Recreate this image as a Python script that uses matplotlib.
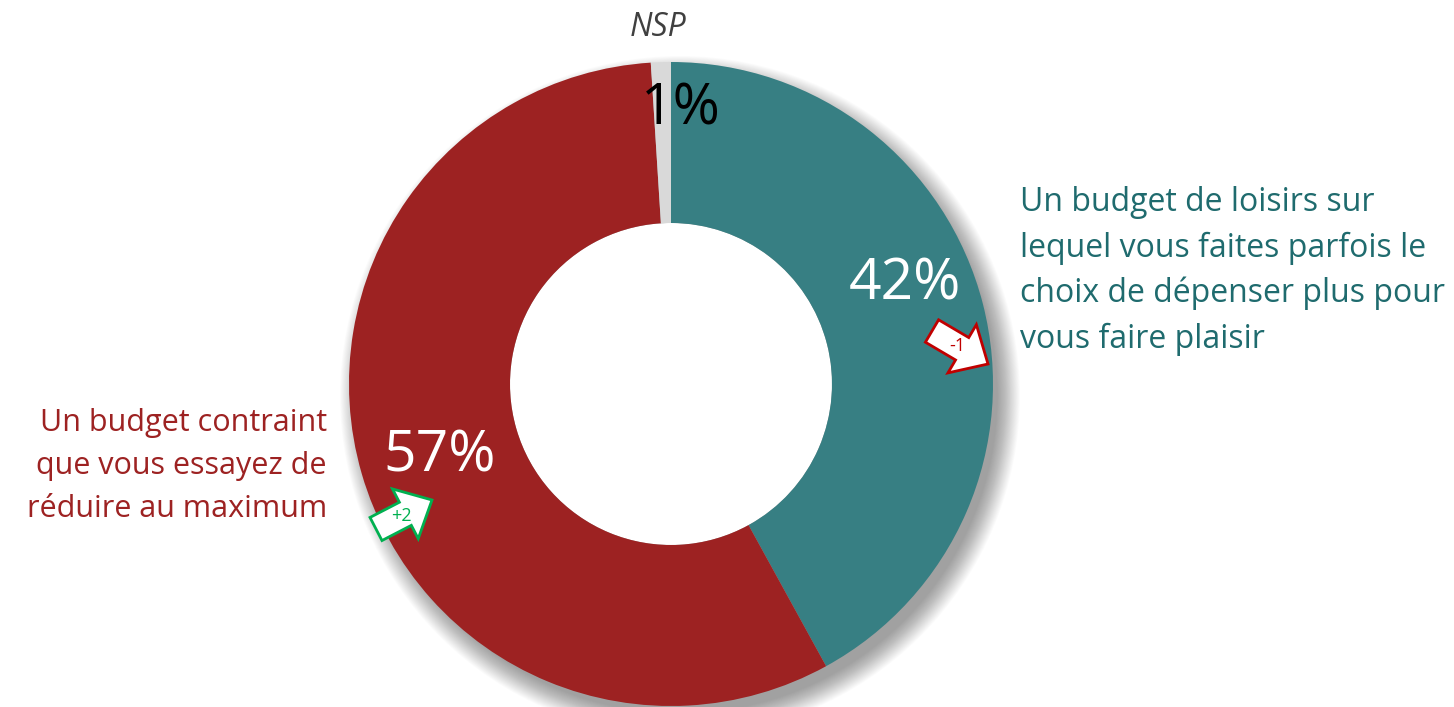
import numpy as np
import matplotlib
matplotlib.use("Agg")
import matplotlib.pyplot as plt
from matplotlib.patches import Circle, Polygon

# ---- data ----
categories = [
    "Un budget de loisirs sur\nlequel vous faites parfois le\nchoix de dépenser plus pour\nvous faire plaisir",
    "Un budget contraint\nque vous essayez de\nréduire au maximum",
    "NSP",
]
values = [42, 57, 1]
pct_labels = ["42%", "57%", "1%"]
evolutions = ["-1", "+2"]

colors = ["#377F83", "#9D2222", "#D9D9D9"]
label_colors = ["#1F6B6E", "#9D2222", "#404040"]

plt.rcParams['font.family'] = ['Open Sans', 'DejaVu Sans']

W, H = 1454, 707
fig = plt.figure(figsize=(W / 100, H / 100), dpi=100)
ax = fig.add_axes([0, 0, 1, 1])

cx, cy = 671, H - 384
R = 322
r_in = 161

# soft shadow (bottom-right)
for i in range(26):
    rr = R + 18 - i * 0.9
    ax.add_patch(Circle((cx + 9, cy - 12), rr, color='#000000', alpha=0.015, lw=0, zorder=1))
ax.add_patch(Circle((cx, cy), r_in, color='white', lw=0, zorder=2))

wedges, _ = ax.pie(values, colors=colors, startangle=90, counterclock=False,
                   center=(cx, cy), radius=R,
                   wedgeprops=dict(width=R - r_in, linewidth=0), frame=False)
for w in wedges:
    w.set_zorder(3)
ax.set_xlim(0, W)
ax.set_ylim(0, H)
ax.set_aspect('equal')
ax.axis('off')

# percentage labels
ax.text(905, H - 285, pct_labels[0], color='white', fontsize=41, ha='center', va='center', zorder=5)
ax.text(440, H - 457, pct_labels[1], color='white', fontsize=41, ha='center', va='center', zorder=5)
ax.text(681, H - 110, pct_labels[2], color='black', fontsize=41, ha='center', va='center', zorder=5)

# category labels
ax.text(1020, H - 271, categories[0], color=label_colors[0], fontsize=23, ha='left', va='center',
        linespacing=1.48, zorder=5)
ax.text(327, H - 466, categories[1], color=label_colors[1], fontsize=22, ha='right', va='center',
        linespacing=1.55, zorder=5)
ax.text(658, H - 27, categories[2], color=label_colors[2], fontsize=23, style='italic',
        ha='center', va='center', zorder=5)


def block_arrow(tail, tip, shaft_w, head_w, head_len, ec, text, tcolor):
    tail = np.array(tail, float); tip = np.array(tip, float)
    d = tip - tail
    L = np.hypot(*d)
    u = d / L
    n = np.array([-u[1], u[0]])
    base = tip - u * head_len
    pts = [tail + n * shaft_w / 2, base + n * shaft_w / 2, base + n * head_w / 2, tip,
           base - n * head_w / 2, base - n * shaft_w / 2, tail - n * shaft_w / 2]
    ax.add_patch(Polygon(pts, closed=True, facecolor='white', edgecolor=ec, lw=2, zorder=6,
                         joinstyle='miter'))
    c = tail + u * L * 0.45
    ax.text(c[0], c[1], text, color=tcolor, fontsize=13, ha='center', va='center', zorder=7)


block_arrow((932, H - 331), (988, H - 364), 26, 56, 30, '#C00000', evolutions[0], '#C00000')
block_arrow((376, H - 529), (432, H - 500), 26, 56, 30, '#00B050', evolutions[1], '#00B050')

fig.savefig('out.png', dpi=100)
